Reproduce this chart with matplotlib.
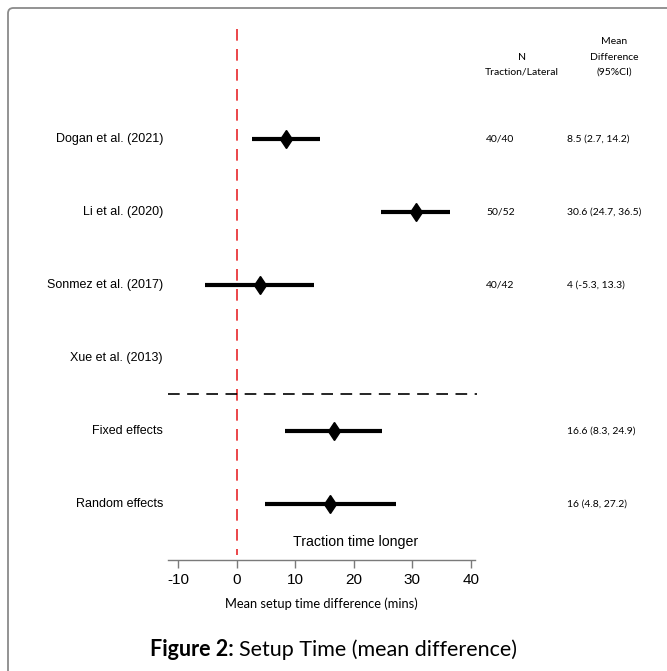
import numpy as np
import matplotlib
matplotlib.use("Agg")
import matplotlib.pyplot as plt
from matplotlib.patches import FancyBboxPatch

studies = ["Dogan et al. (2021)", "Li et al. (2020)", "Sonmez et al. (2017)",
           "Xue et al. (2013)", "Fixed effects", "Random effects"]
means = [8.5, 30.6, 4.0, np.nan, 16.6, 16.0]
lower = [2.7, 24.7, -5.3, np.nan, 8.3, 4.8]
upper = [14.2, 36.5, 13.3, np.nan, 24.9, 27.2]
n_labels = ["40/40", "50/52", "40/42", "", "", ""]
md_labels = ["8.5 (2.7, 14.2)", "30.6 (24.7, 36.5)", "4 (-5.3, 13.3)", "",
             "16.6 (8.3, 24.9)", "16 (4.8, 27.2)"]
xticks = [-10, 0, 10, 20, 30, 40]

W, H = 667, 671
fig = plt.figure(figsize=(W / 100, H / 100), dpi=100)

# border of the figure panel
border = FancyBboxPatch((8 / W, -0.1), 1.2, (H - 8) / H + 0.1,
                        boxstyle="round,pad=0,rounding_size=0.008",
                        transform=fig.transFigure, fill=False,
                        edgecolor="#8a8a8a", linewidth=1.3, zorder=0)
fig.patches.append(border)

ax = fig.add_axes([168 / W, 1 - 560 / H, (475 - 168) / W, (560 - 20) / H])
ax.set_xlim(-11.7, 40.7)
ax.set_ylim(5.77, -1.63)

ypos = np.arange(len(studies))

for i in range(len(studies)):
    if np.isnan(means[i]):
        continue
    ax.plot([lower[i], upper[i]], [ypos[i], ypos[i]], color="black", lw=3.0,
            solid_capstyle="butt", zorder=3)
    ax.plot(means[i], ypos[i], marker="d", color="black", markersize=9.5, zorder=4)

# reference line at 0
ax.plot([0, 0], [-1.50, 5.70], color="#e8262a", lw=1.2, dashes=(7, 5), zorder=2)
# separator
ax.plot([-11.7, 41.0], [3.5, 3.5], color="black", lw=1.2, dashes=(7, 4.5),
        clip_on=False, zorder=2)

for s in ["top", "right", "left"]:
    ax.spines[s].set_visible(False)
ax.spines["bottom"].set_color("#7a7a7a")
ax.spines["bottom"].set_linewidth(1.0)
ax.set_yticks([])
ax.set_xticks(xticks)
ax.set_xticklabels([str(t) for t in xticks], fontfamily="Liberation Sans", fontsize=11)
ax.tick_params(axis="x", direction="out", length=6, color="#7a7a7a", width=1.0, pad=3)

ax.text(20.3, 5.53, "Traction time longer", ha="center", va="center",
        fontfamily="Liberation Sans", fontsize=10.2)

ax.set_xlabel("Mean setup time difference (mins)", fontfamily="Lato", fontsize=9.3,
              labelpad=8)

# study labels
for i, s in enumerate(studies):
    fig.text(163 / W, 1 - (139 + i * 73) / H, s, ha="right", va="center",
             fontfamily="Liberation Sans", fontsize=9)

# right columns
for i in range(len(studies)):
    y = 1 - (139 + i * 73) / H
    if n_labels[i]:
        fig.text(486 / W, y, n_labels[i], ha="left", va="center",
                 fontfamily="Lato", fontsize=7.5)
    if md_labels[i]:
        fig.text(567 / W, y, md_labels[i], ha="left", va="center",
                 fontfamily="Lato", fontsize=7.5)

fig.text(522 / W, 1 - 57 / H, "N", ha="center", va="center", fontfamily="Lato", fontsize=7.5)
fig.text(522 / W, 1 - 72 / H, "Traction/Lateral", ha="center", va="center",
         fontfamily="Lato", fontsize=7.5)
fig.text(614 / W, 1 - 41 / H, "Mean", ha="center", va="center", fontfamily="Lato", fontsize=7.5)
fig.text(614 / W, 1 - 57 / H, "Difference", ha="center", va="center",
         fontfamily="Lato", fontsize=7.5)
fig.text(614 / W, 1 - 72 / H, "(95%CI)", ha="center", va="center",
         fontfamily="Lato", fontsize=7.5)

# caption with bold prefix
renderer = fig.canvas.get_renderer()
cy = 1 - 650 / H
t1 = fig.text(0, cy, "Figure 2: ", ha="left", va="center", fontfamily="Lato",
              fontweight="bold", fontsize=15.5)
t2 = fig.text(0, cy, "Setup Time (mean difference)", ha="left", va="center",
              fontfamily="Lato", fontsize=15.5)
w1 = t1.get_window_extent(renderer).width
w2 = t2.get_window_extent(renderer).width
x0 = (W / 2 - (w1 + w2) / 2)
t1.set_x(x0 / W)
t2.set_x((x0 + w1) / W)

fig.savefig("out.png", dpi=100)
